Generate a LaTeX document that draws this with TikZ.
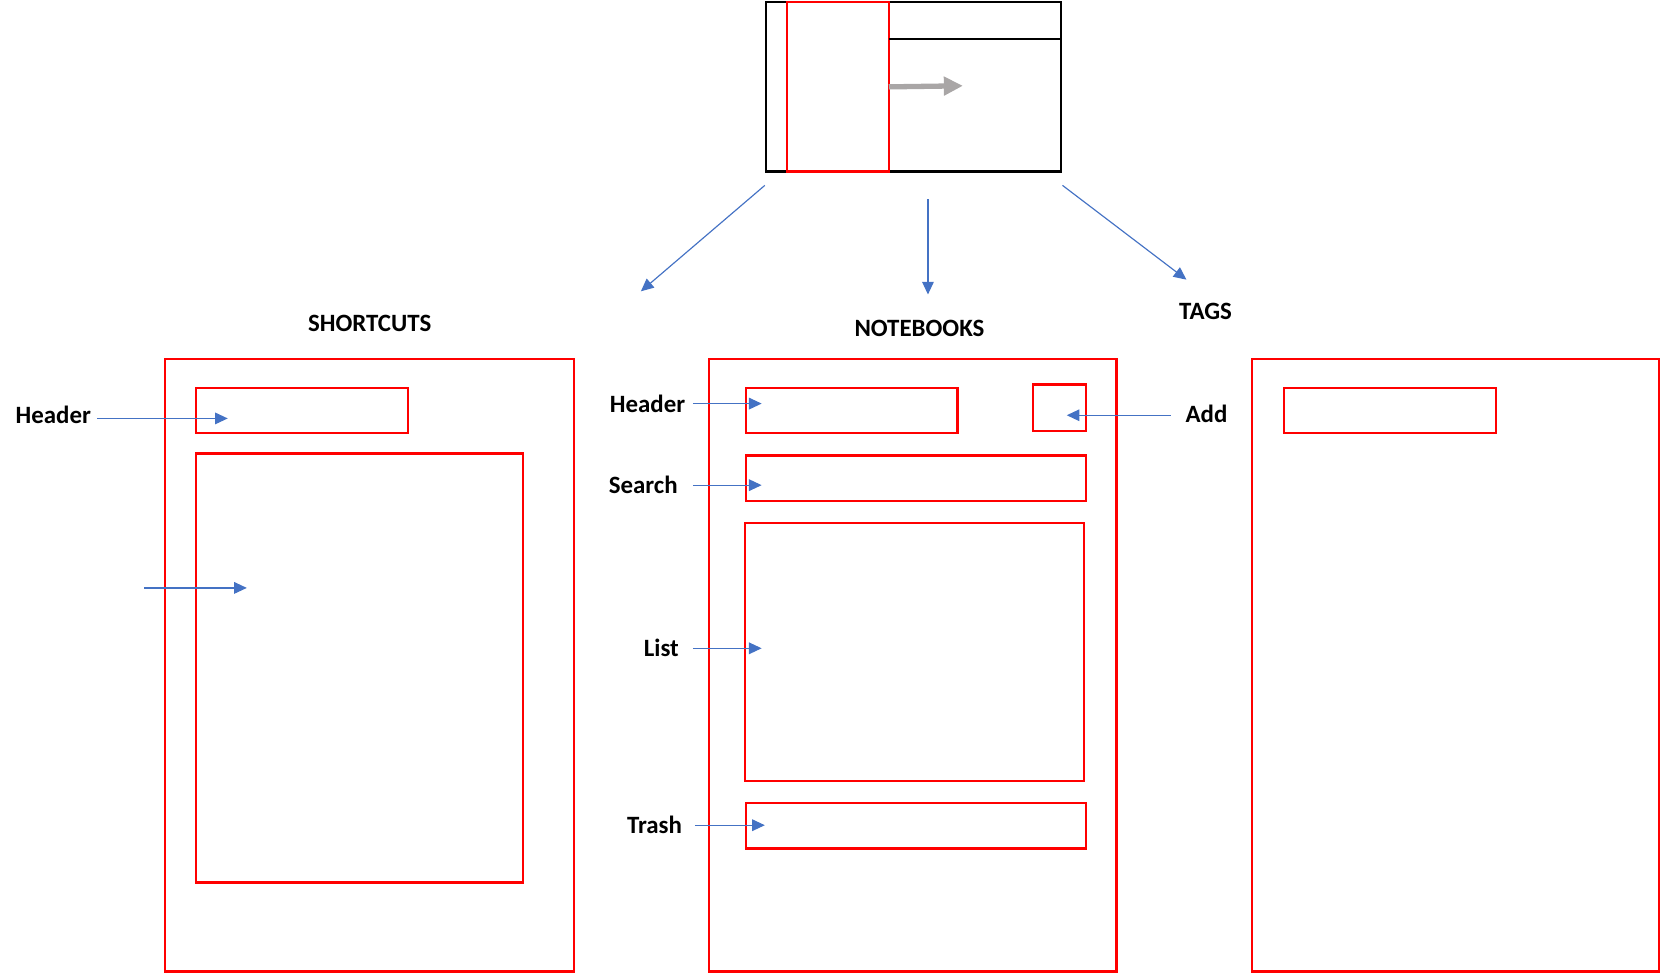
\documentclass[tikz,border=0pt]{standalone}
\usepackage{fontspec}
\setmainfont{Carlito}
\usetikzlibrary{arrows.meta}
\definecolor{boxred}{HTML}{FF0000}
\definecolor{arrblue}{HTML}{4472C4}
\definecolor{arrgray}{HTML}{A9A6A6}
\tikzset{
  redbox/.style={draw=boxred, line width=2.2pt, anchor=north west, inner sep=0pt, outer sep=0pt},
  blackbox/.style={draw=black, line width=2.2pt, anchor=north west, inner sep=0pt, outer sep=0pt},
  barrow/.style={draw=arrblue, line width=1.1pt, -{Triangle[length=12pt,width=11pt]}},
  garrow/.style={draw=arrgray, line width=5pt, -{Triangle[length=18pt,width=17pt]}},
  lbl/.style={font=\bfseries\fontsize{23.5}{26}\selectfont, inner sep=0pt},
}
\begin{document}
\begin{tikzpicture}[x=1pt,y=-1pt]
\useasboundingbox (0,0) rectangle (1568,920);
% top application sketch
\node[blackbox, minimum width=278.5pt, minimum height=160pt] (app) at (723,2) {};
\node[redbox, minimum width=96pt, minimum height=160pt] (side) at (743,2) {};
\coordinate (hl1) at (839,37);
\coordinate (hl2) at (1001.5,37);
\draw[black, line width=2.2pt] (hl1) -- (hl2);
\coordinate (gtip) at (909,81);
\draw[garrow] (side.east) -- (gtip);
% arrows from the sketch
\coordinate (a1s) at (722,175);
\coordinate (a1e) at (605,275);
\coordinate (a2s) at (876,188);
\coordinate (a2e) at (876,278);
\coordinate (a3s) at (1003,175);
\coordinate (a3e) at (1120,264);
\draw[barrow] (a1s) -- (a1e);
\draw[barrow] (a2s) -- (a2e);
\draw[barrow] (a3s) -- (a3e);
% titles
\node[lbl] (tshort) at (349,305) {SHORTCUTS};
\node[lbl] (tnote) at (868,310) {NOTEBOOKS};
\node[lbl] (ttags) at (1138,294) {TAGS};
% shortcuts panel
\node[redbox, minimum width=386pt, minimum height=578pt] (sc) at (156,339) {};
\node[redbox, minimum width=200pt, minimum height=43pt] (schead) at (185,366) {};
\node[redbox, minimum width=309pt, minimum height=405pt] (sclist) at (185,428) {};
\node[lbl, anchor=east] (lsch) at (86,392) {Header};
\coordinate (tsch) at (215,395);
\draw[barrow] (lsch.east |- tsch) ++(6,0) -- (tsch);
\coordinate (ssl) at (136,555);
\coordinate (tsl) at (233,555);
\draw[barrow] (ssl) -- (tsl);
% notebooks panel
\node[redbox, minimum width=385pt, minimum height=578pt] (nb) at (669,339) {};
\node[redbox, minimum width=200pt, minimum height=43pt] (nbhead) at (704,366) {};
\node[redbox, minimum width=50pt, minimum height=44pt] (nbadd) at (975,363) {};
\node[redbox, minimum width=321pt, minimum height=43pt] (nbsearch) at (704,430) {};
\node[redbox, minimum width=320pt, minimum height=243pt] (nblist) at (703,494) {};
\node[redbox, minimum width=321pt, minimum height=43pt] (nbtrash) at (704,758) {};
\node[lbl, anchor=east] (lnh) at (647,381) {Header};
\node[lbl, anchor=east] (lns) at (640,458) {Search};
\node[lbl, anchor=east] (lnl) at (641,612) {List};
\node[lbl, anchor=east] (lnt) at (644,779) {Trash};
\node[lbl, anchor=west] (lna) at (1119,391) {Add};
\coordinate (tnh) at (719,381);
\coordinate (tns) at (719,458);
\coordinate (tnl) at (719,612);
\coordinate (tnt) at (722,779);
\coordinate (tna) at (1007,392);
\draw[barrow] (lnh.east |- tnh) ++(7,0) -- (tnh);
\draw[barrow] (lns.east |- tns) ++(14,0) -- (tns);
\draw[barrow] (lnl.east |- tnl) ++(13,0) -- (tnl);
\draw[barrow] (lnt.east |- tnt) ++(12,0) -- (tnt);
\draw[barrow] (lna.west |- tna) ++(-14,0) -- (tna);
% tags panel
\node[redbox, minimum width=384pt, minimum height=578pt] (tg) at (1182,339) {};
\node[redbox, minimum width=200pt, minimum height=43pt] (tghead) at (1212,366) {};
\end{tikzpicture}
\end{document}
